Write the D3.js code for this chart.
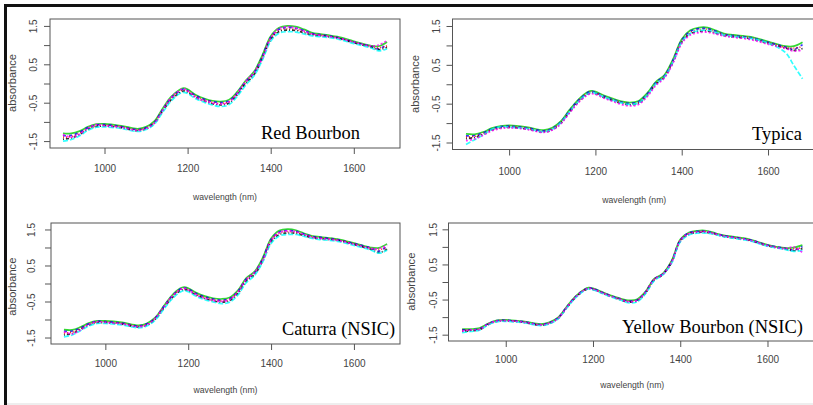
<!DOCTYPE html>
<html><head><meta charset="utf-8">
<script src="https://cdn.jsdelivr.net/npm/d3@7"></script>
<style>body{margin:0;background:#fff;} svg{display:block}</style>
</head><body>
<svg id="c" width="813" height="405"></svg>
<script>
// ---------------- DATA ----------------
const wavelengths = [900,920,940,960,980,1000,1040,1080,1100,1120,1140,1160,1180,1190,1200,1220,1240,1260,1280,1300,1320,1340,1360,1380,1400,1420,1440,1460,1480,1500,1520,1560,1600,1640,1660,1680];

const redBourbon = [
 [-1.30,-1.30,-1.24,-1.13,-1.06,-1.05,-1.10,-1.18,-1.13,-0.98,-0.65,-0.35,-0.17,-0.12,-0.15,-0.30,-0.39,-0.45,-0.47,-0.42,-0.21,0.08,0.31,0.74,1.23,1.45,1.50,1.48,1.41,1.32,1.29,1.22,1.10,0.99,0.97,1.08],
 [-1.36,-1.35,-1.27,-1.15,-1.08,-1.07,-1.12,-1.20,-1.15,-1.01,-0.68,-0.38,-0.20,-0.15,-0.18,-0.32,-0.41,-0.47,-0.50,-0.45,-0.24,0.05,0.28,0.71,1.20,1.41,1.46,1.44,1.38,1.30,1.27,1.20,1.08,0.97,0.90,1.02],
 [-1.40,-1.38,-1.30,-1.18,-1.10,-1.09,-1.13,-1.21,-1.16,-1.02,-0.70,-0.40,-0.22,-0.17,-0.20,-0.34,-0.43,-0.49,-0.52,-0.47,-0.26,0.03,0.26,0.68,1.17,1.38,1.43,1.41,1.35,1.28,1.26,1.19,1.07,0.96,0.93,0.98],
 [-1.45,-1.42,-1.33,-1.20,-1.12,-1.11,-1.15,-1.23,-1.18,-1.04,-0.72,-0.43,-0.25,-0.20,-0.23,-0.37,-0.46,-0.53,-0.56,-0.51,-0.29,0.00,0.23,0.65,1.14,1.35,1.39,1.38,1.32,1.26,1.24,1.18,1.06,0.95,0.88,0.94],
 [-1.50,-1.46,-1.36,-1.22,-1.14,-1.13,-1.17,-1.25,-1.20,-1.06,-0.75,-0.46,-0.27,-0.23,-0.26,-0.40,-0.49,-0.56,-0.60,-0.55,-0.33,-0.04,0.20,0.61,1.10,1.31,1.35,1.34,1.29,1.24,1.22,1.16,1.04,0.93,0.85,0.90],
 [-1.33,-1.40,-1.32,-1.16,-1.07,-1.10,-1.14,-1.22,-1.17,-1.03,-0.69,-0.37,-0.18,-0.14,-0.19,-0.36,-0.45,-0.51,-0.54,-0.48,-0.25,0.06,0.29,0.66,1.19,1.43,1.48,1.45,1.37,1.29,1.25,1.19,1.08,0.98,1.00,1.12]
];

const typica = [
 [-1.28,-1.29,-1.23,-1.13,-1.08,-1.06,-1.10,-1.18,-1.12,-0.95,-0.66,-0.40,-0.21,-0.17,-0.19,-0.29,-0.37,-0.44,-0.47,-0.43,-0.23,0.06,0.24,0.65,1.16,1.39,1.46,1.46,1.38,1.30,1.27,1.22,1.10,0.98,0.98,1.08],
 [-1.33,-1.32,-1.25,-1.15,-1.09,-1.08,-1.12,-1.20,-1.14,-0.97,-0.68,-0.42,-0.23,-0.18,-0.21,-0.31,-0.39,-0.46,-0.49,-0.45,-0.25,0.04,0.22,0.62,1.13,1.36,1.43,1.43,1.36,1.28,1.25,1.20,1.08,0.96,0.90,1.02],
 [-1.36,-1.34,-1.27,-1.17,-1.11,-1.09,-1.13,-1.21,-1.15,-0.98,-0.70,-0.44,-0.25,-0.20,-0.22,-0.32,-0.40,-0.47,-0.51,-0.47,-0.27,0.02,0.20,0.60,1.11,1.33,1.40,1.41,1.34,1.27,1.24,1.19,1.07,0.95,0.93,0.97],
 [-1.40,-1.37,-1.29,-1.18,-1.12,-1.11,-1.15,-1.23,-1.17,-1.00,-0.72,-0.46,-0.27,-0.22,-0.24,-0.34,-0.42,-0.49,-0.53,-0.49,-0.29,0.00,0.18,0.57,1.08,1.30,1.36,1.37,1.31,1.25,1.22,1.17,1.05,0.93,0.87,0.92],
 [-1.55,-1.43,-1.30,-1.16,-1.10,-1.10,-1.14,-1.22,-1.16,-0.99,-0.71,-0.45,-0.26,-0.21,-0.23,-0.33,-0.41,-0.48,-0.52,-0.48,-0.28,0.01,0.19,0.58,1.09,1.31,1.38,1.39,1.33,1.26,1.23,1.18,1.06,0.82,0.48,0.14],
 [-1.45,-1.41,-1.31,-1.20,-1.14,-1.12,-1.16,-1.24,-1.18,-1.02,-0.74,-0.48,-0.29,-0.24,-0.26,-0.36,-0.44,-0.52,-0.56,-0.52,-0.32,-0.03,0.16,0.55,1.05,1.27,1.33,1.34,1.29,1.24,1.21,1.15,1.03,0.92,0.85,0.88]
];

const caturra = [
 [-1.28,-1.29,-1.21,-1.10,-1.04,-1.04,-1.08,-1.16,-1.11,-0.95,-0.64,-0.34,-0.14,-0.10,-0.13,-0.26,-0.35,-0.41,-0.43,-0.39,-0.19,0.15,0.33,0.72,1.25,1.47,1.51,1.48,1.39,1.32,1.29,1.23,1.12,1.00,0.99,1.10],
 [-1.33,-1.32,-1.24,-1.12,-1.05,-1.06,-1.10,-1.18,-1.12,-0.96,-0.66,-0.36,-0.16,-0.12,-0.15,-0.28,-0.37,-0.43,-0.46,-0.42,-0.22,0.12,0.30,0.69,1.22,1.43,1.47,1.45,1.37,1.31,1.28,1.22,1.11,0.99,0.90,1.04],
 [-1.38,-1.35,-1.26,-1.14,-1.07,-1.07,-1.11,-1.19,-1.14,-0.98,-0.68,-0.38,-0.18,-0.14,-0.17,-0.30,-0.39,-0.45,-0.48,-0.44,-0.24,0.10,0.28,0.66,1.19,1.40,1.44,1.42,1.35,1.29,1.26,1.21,1.10,0.97,0.94,1.00],
 [-1.43,-1.39,-1.28,-1.16,-1.09,-1.09,-1.13,-1.21,-1.16,-1.00,-0.70,-0.41,-0.21,-0.17,-0.20,-0.33,-0.42,-0.48,-0.52,-0.48,-0.28,0.06,0.25,0.63,1.15,1.36,1.40,1.39,1.33,1.27,1.24,1.19,1.08,0.95,0.86,0.95],
 [-1.48,-1.43,-1.31,-1.18,-1.11,-1.11,-1.15,-1.23,-1.18,-1.02,-0.73,-0.44,-0.24,-0.20,-0.23,-0.36,-0.45,-0.51,-0.56,-0.52,-0.32,0.02,0.22,0.60,1.11,1.32,1.36,1.36,1.31,1.25,1.22,1.17,1.06,0.93,0.84,0.92],
 [-1.34,-1.40,-1.29,-1.13,-1.06,-1.08,-1.12,-1.20,-1.15,-0.97,-0.67,-0.37,-0.17,-0.13,-0.18,-0.32,-0.41,-0.47,-0.50,-0.45,-0.23,0.11,0.31,0.65,1.20,1.42,1.46,1.44,1.36,1.28,1.25,1.20,1.09,0.98,0.97,1.06]
];

const yellowBourbon = [
 [-1.34,-1.34,-1.31,-1.18,-1.09,-1.08,-1.12,-1.20,-1.15,-1.01,-0.70,-0.41,-0.21,-0.16,-0.18,-0.28,-0.38,-0.46,-0.52,-0.50,-0.28,0.09,0.24,0.60,1.21,1.41,1.46,1.46,1.39,1.33,1.29,1.21,1.06,0.97,0.98,1.05],
 [-1.36,-1.36,-1.33,-1.19,-1.10,-1.09,-1.13,-1.21,-1.16,-1.02,-0.71,-0.42,-0.22,-0.17,-0.19,-0.29,-0.39,-0.47,-0.54,-0.52,-0.29,0.08,0.23,0.58,1.19,1.40,1.44,1.44,1.38,1.32,1.28,1.20,1.05,0.96,0.91,1.01],
 [-1.38,-1.37,-1.34,-1.20,-1.11,-1.10,-1.14,-1.22,-1.17,-1.03,-0.72,-0.43,-0.23,-0.18,-0.20,-0.30,-0.40,-0.48,-0.55,-0.53,-0.30,0.07,0.22,0.57,1.18,1.38,1.43,1.43,1.37,1.31,1.27,1.19,1.04,0.95,0.94,0.98],
 [-1.41,-1.39,-1.36,-1.21,-1.12,-1.11,-1.15,-1.23,-1.18,-1.04,-0.73,-0.44,-0.24,-0.19,-0.21,-0.31,-0.41,-0.49,-0.57,-0.55,-0.32,0.05,0.21,0.55,1.16,1.36,1.41,1.41,1.36,1.30,1.26,1.18,1.03,0.94,0.89,0.95],
 [-1.44,-1.41,-1.37,-1.22,-1.13,-1.12,-1.16,-1.24,-1.19,-1.05,-0.74,-0.45,-0.25,-0.20,-0.22,-0.32,-0.42,-0.50,-0.59,-0.57,-0.34,0.03,0.20,0.53,1.14,1.34,1.39,1.39,1.35,1.29,1.25,1.17,1.02,0.93,0.87,0.90],
 [-1.40,-1.36,-1.35,-1.19,-1.11,-1.10,-1.14,-1.22,-1.17,-1.03,-0.72,-0.43,-0.23,-0.18,-0.20,-0.30,-0.40,-0.48,-0.56,-0.53,-0.30,0.07,0.22,0.56,1.18,1.38,1.43,1.43,1.37,1.31,1.27,1.19,1.04,0.95,1.00,0.84]
];

const xTicks = [1000, 1200, 1400, 1600];
const yTicks = [-1.5, -1, -0.5, 0, 0.5, 1, 1.5];
const yTickLabels = ["-1.5", "", "-0.5", "", "0.5", "", "1.5"];
const panelLabels = ["Red Bourbon", "Typica", "Caturra (NSIC)", "Yellow Bourbon (NSIC)"];
const xTitle = "wavelength (nm)";
const yTitle = "absorbance";
const seriesColors = ["#00CD00", "#0000FF", "#FF0000", "#000000", "#00FFFF", "#FF00FF"];
const seriesDash = [null, "3,3", "1,2", "1,2,3,2", "5,2", "2,2"];

// ---------------- LAYOUT ----------------
const svg = d3.select("#c");
const datasets = [redBourbon, typica, caturra, yellowBourbon];
const layout = [
  {l:50,  r:400, t:19,  b:148,   ytlx:33.3,  ytx:12.3, yty:83,    xtb:171.5, xty:200, lx:261, ly:139.3, lw:99},
  {l:452.5,r:816, t:19,  b:149.5, ytlx:436.7, ytx:415,  yty:84,    xtb:174.5, xty:203, lx:752, ly:140,   lw:50},
  {l:51,  r:400, t:223, b:344,   ytlx:31.7,  ytx:12.3, yty:286.7, xtb:366.5, xty:393, lx:282, ly:335,   lw:113},
  {l:448.5,r:816, t:223, b:341,   ytlx:433.3, ytx:411,  yty:281.7, xtb:362.5, xty:388, lx:622, ly:333.3, lw:181}
];
const axisCol = "#555";
const textCol = "#444";

layout.forEach((p, pi) => {
  const x = d3.scaleLinear().domain([868.8, 1711.2]).range([p.l, p.r]);
  const y = d3.scaleLinear().domain([-1.68, 1.68]).range([p.b, p.t]);
  const g = svg.append("g");

  const clipId = "clip" + pi;
  svg.append("clipPath").attr("id", clipId).append("rect")
    .attr("x", p.l).attr("y", p.t).attr("width", p.r - p.l).attr("height", p.b - p.t);

  const line = d3.line()
    .x((d, i) => x(wavelengths[i]))
    .y(d => y(d))
    .curve(d3.curveCatmullRom.alpha(0.5));

  const lg = g.append("g").attr("clip-path", `url(#${clipId})`);
  datasets[pi].forEach((s, si) => {
    const path = lg.append("path").attr("d", line(s))
      .attr("fill", "none")
      .attr("stroke", seriesColors[si % seriesColors.length])
      .attr("stroke-width", 1.7)
      .attr("stroke-opacity", 0.8);
    const da = seriesDash[si % seriesDash.length];
    if (da) path.attr("stroke-dasharray", da);
  });

  // box
  g.append("rect").attr("x", p.l).attr("y", p.t)
    .attr("width", p.r - p.l).attr("height", p.b - p.t)
    .attr("fill", "none").attr("stroke", axisCol).attr("stroke-width", 1);

  // y axis
  const ya = g.append("g").attr("transform", `translate(${p.l},0)`)
    .call(d3.axisLeft(y).tickValues(yTicks).tickSize(6).tickFormat((d, i) => yTickLabels[i]));
  ya.select(".domain").remove();
  ya.selectAll(".tick line").attr("stroke", axisCol);
  ya.selectAll(".tick text")
    .attr("x", null).attr("dy", null)
    .attr("transform", `translate(${p.ytlx - p.l},0) rotate(-90)`)
    .attr("text-anchor", "middle").attr("dominant-baseline", "central")
    .attr("fill", textCol).style("font-family", "Liberation Sans, Arial, sans-serif").style("font-size", "10px");

  // x axis
  const xa = g.append("g").attr("transform", `translate(0,${p.b})`)
    .call(d3.axisBottom(x).tickValues(xTicks).tickSize(6).tickFormat(d3.format("d")));
  xa.select(".domain").remove();
  xa.selectAll(".tick line").attr("stroke", axisCol);
  xa.selectAll(".tick text")
    .attr("y", p.xtb - p.b).attr("dy", null)
    .attr("fill", textCol).style("font-family", "Liberation Sans, Arial, sans-serif").style("font-size", "10px");

  // titles
  g.append("text").attr("x", (p.l + p.r) / 2).attr("y", p.xty)
    .attr("text-anchor", "middle").attr("fill", textCol)
    .attr("textLength", 64).attr("lengthAdjust", "spacingAndGlyphs")
    .style("font-family", "Liberation Sans, Arial, sans-serif").style("font-size", "9.5px")
    .text(xTitle);
  g.append("text").attr("transform", `translate(${p.ytx},${p.yty}) rotate(-90)`)
    .attr("text-anchor", "middle").attr("dominant-baseline", "central").attr("fill", textCol)
    .attr("textLength", 58).attr("lengthAdjust", "spacingAndGlyphs")
    .style("font-family", "Liberation Sans, Arial, sans-serif").style("font-size", "10.5px")
    .text(yTitle);

  // panel label
  g.append("text").attr("x", p.lx).attr("y", p.ly)
    .attr("fill", "#000").attr("textLength", p.lw).attr("lengthAdjust", "spacingAndGlyphs")
    .style("font-family", "Liberation Serif, Times New Roman, serif").style("font-size", "18.5px")
    .text(panelLabels[pi]);
});

// outer frame
svg.append("rect").attr("x", 4).attr("y", 4).attr("width", 3).attr("height", 401).attr("fill", "#111");
svg.append("rect").attr("x", 4).attr("y", 4).attr("width", 809).attr("height", 3).attr("fill", "#111");
svg.append("rect").attr("x", 7).attr("y", 403.5).attr("width", 806).attr("height", 1).attr("fill", "#ddd");
</script>
</body></html>
